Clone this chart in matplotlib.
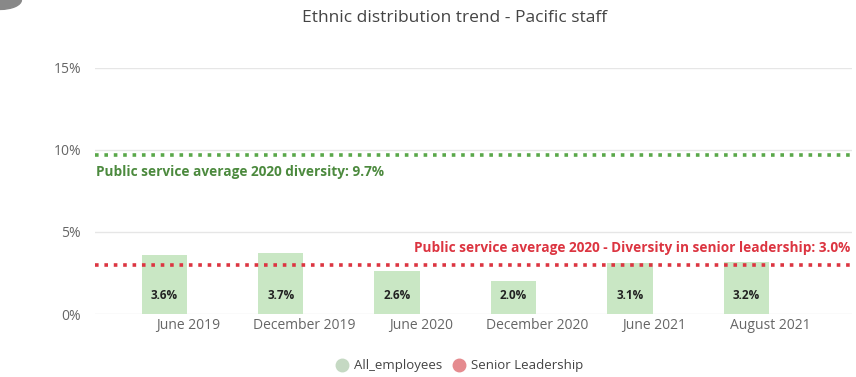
import matplotlib.pyplot as plt
import numpy as np
from matplotlib.lines import Line2D
from matplotlib.patches import Circle

plt.rcParams['font.family'] = ['Open Sans', 'DejaVu Sans']

periods = ["June 2019", "December 2019", "June 2020", "December 2020", "June 2021", "August 2021"]
all_employees = [3.6, 3.7, 2.6, 2.0, 3.1, 3.2]
senior_leadership = [0, 0, 0, 0, 0, 0]
ps_avg_diversity = 9.7
ps_avg_senior = 3.0

bar_green = "#c9e7c4"
line_green = "#5aa84a"
line_red = "#dc3541"

fig = plt.figure(figsize=(8.56, 3.77), dpi=100)
ax = fig.add_axes([0.111, 0.167, 0.884, 0.653])

x = np.arange(len(periods))
w = 0.39
ax.bar(x - w / 2 - 0.01, all_employees, width=w, color=bar_green, zorder=2)
ax.bar(x + w / 2, senior_leadership, width=w, color="#f0a0a0", zorder=2)

for xi, v in zip(x, all_employees):
    ax.text(xi - w / 2 - 0.01, 1.1, f"{v:.1f}%", ha="center", va="center",
            fontsize=8.5, color="#222222", fontweight="bold", zorder=4)

ax.axhline(ps_avg_diversity, color=line_green, linestyle=(0, (1, 1.6)), linewidth=2.6, zorder=3)
ax.axhline(ps_avg_senior, color=line_red, linestyle=(0, (1, 1.6)), linewidth=2.6, zorder=3)
ax.text(-0.79, ps_avg_diversity - 0.6, "Public service average 2020 diversity: 9.7%",
        ha="left", va="top", fontsize=9.8, color="#4c8a3e", fontweight="bold")
ax.text(5.69, ps_avg_senior + 0.6, "Public service average 2020 - Diversity in senior leadership: 3.0%",
        ha="right", va="bottom", fontsize=9.8, color=line_red, fontweight="bold")

ax.set_xlim(-0.8, 5.7)
ax.set_ylim(0, 15)
ax.set_yticks([0, 5, 10, 15])
ax.set_yticklabels(["0%", "5%", "10%", "15%"])
ax.set_xticks(x)
ax.set_xticklabels(periods)
ax.tick_params(axis="both", length=0, labelsize=10, colors="#666666")
ax.tick_params(axis="y", pad=10)
ax.tick_params(axis="x", pad=3)
ax.grid(axis="y", color="#e6e6e6", linewidth=1, zorder=0)
for s in ax.spines.values():
    s.set_visible(False)

fig.text(0.531, 0.952, "Ethnic distribution trend - Pacific staff", ha="center", va="center",
         fontsize=12.5, color="#444444")

handles = [
    Line2D([], [], marker="o", linestyle="", markersize=9, color="#c5d9c3"),
    Line2D([], [], marker="o", linestyle="", markersize=9, color="#e58b8f"),
]
fig.legend(handles, ["All_employees", "Senior Leadership"], loc="center",
           bbox_to_anchor=(0.533, 0.03), ncol=2, frameon=False, fontsize=9.5,
           handletextpad=-0.1, columnspacing=0.3, labelcolor="#444444")

fig.patches.append(Circle((0, 1), 0.025, transform=fig.transFigure, color="#888888"))

fig.savefig("out.png", dpi=100)
